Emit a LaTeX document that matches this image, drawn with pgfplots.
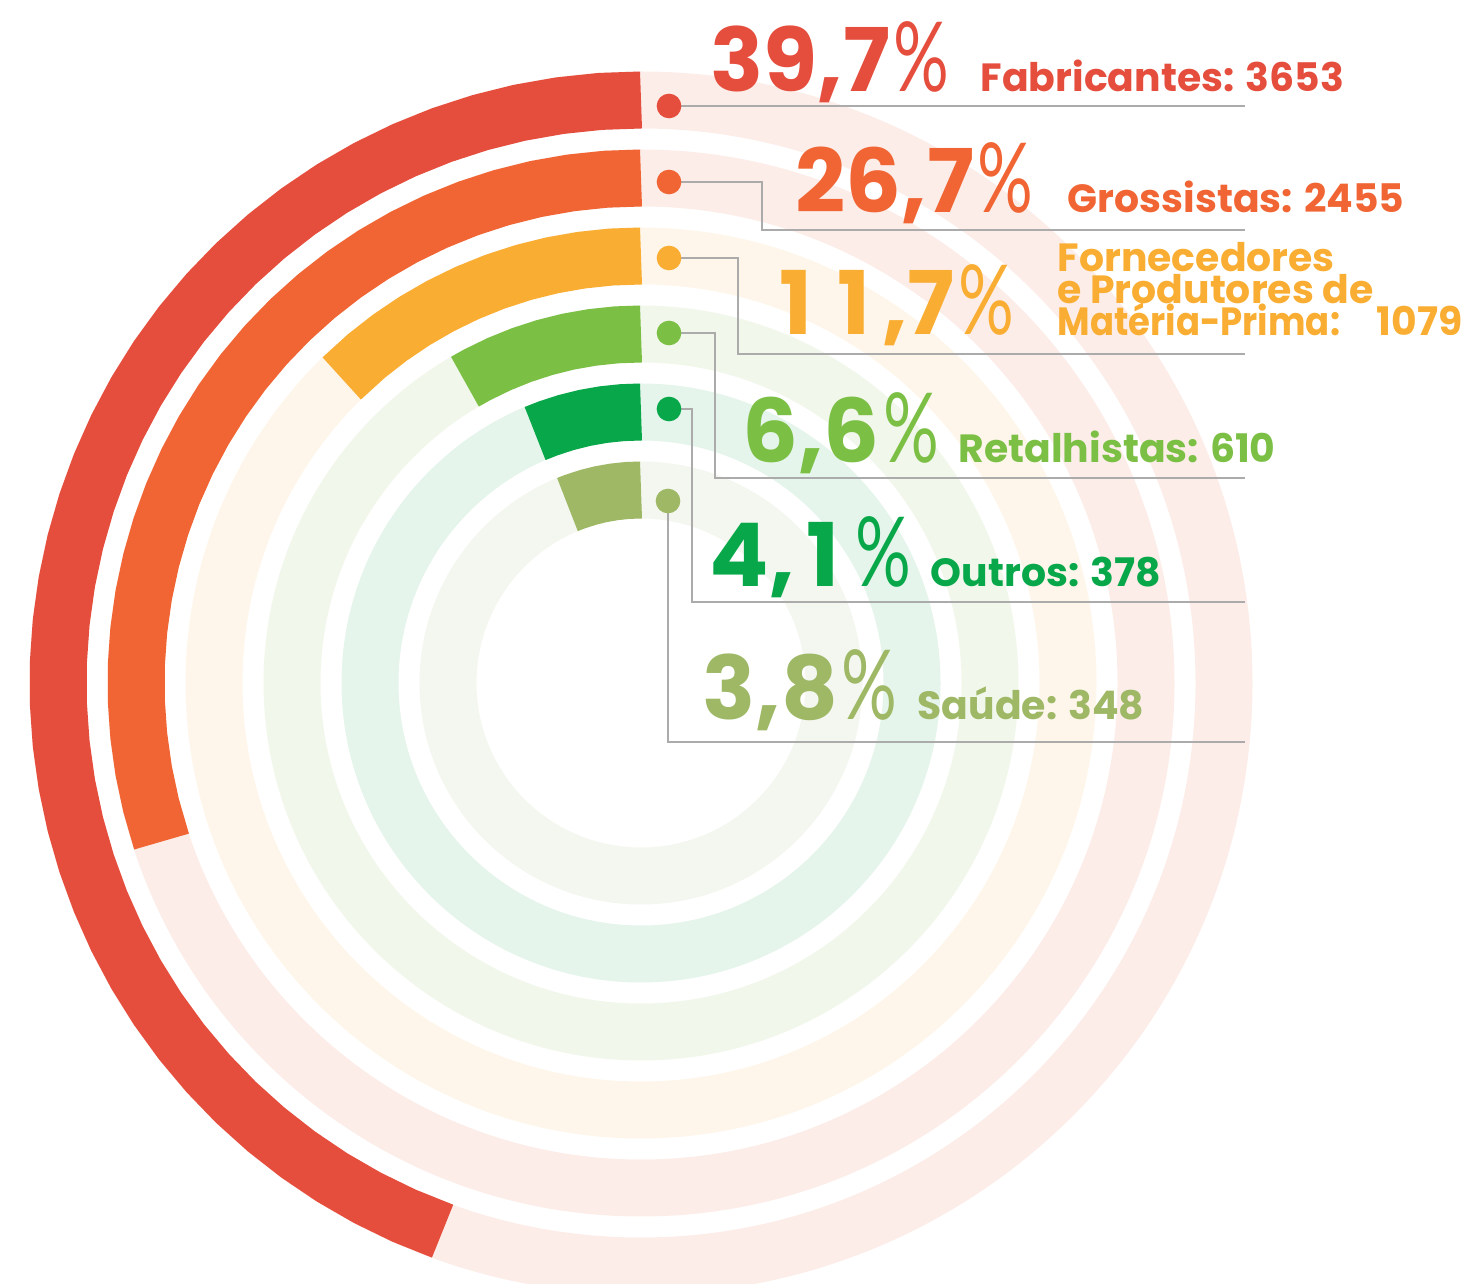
\documentclass[border=0pt]{standalone}
\usepackage{fontspec}
\setmainfont{Poppins}
\newfontfamily\pctfont{Lato}
\usepackage{graphicx}
\usepackage{pgfplots}
\pgfplotsset{compat=1.18}

\definecolor{cFab}{HTML}{E54D3D}
\definecolor{cGro}{HTML}{F06533}
\definecolor{cFor}{HTML}{F9AE33}
\definecolor{cRet}{HTML}{7CBF45}
\definecolor{cOut}{HTML}{08A84A}
\definecolor{cSau}{HTML}{9EB866}
\definecolor{pFab}{HTML}{FCEDE9}
\definecolor{pFor}{HTML}{FEF6EB}
\definecolor{pRet}{HTML}{F1F7EB}
\definecolor{pOut}{HTML}{E5F5EB}
\definecolor{pSau}{HTML}{F3F7EF}
\definecolor{leader}{HTML}{ABABAB}

% big figures: a "1" takes the width of a "0", as in tabular figures
\newlength\digw
\newcommand\one{\makebox[\digw][c]{1}}
\newcommand\bigpct[1]{{\fontsize{25}{25}\selectfont\bfseries\settowidth\digw{0}#1}\hspace{1pt}\scalebox{0.72}[1]{\pctfont\fontsize{27.5}{27.5}\selectfont\%}}
\newcommand\lab{\fontsize{11.2}{11.2}\selectfont\bfseries}
\tikzset{txt/.style={anchor=base west, inner sep=0, text height=7pt, text depth=0pt}}

\begin{document}
\begin{tikzpicture}
\begin{axis}[
  x=0.1mm, y=0.1mm,
  xmin=-641, xmax=830, ymin=-600, ymax=683,
  hide axis, clip=false, clip marker paths=true,
  ring/.style={only marks, mark=o, mark options={draw=#1, line width=5.7mm}},
  arc/.style={#1, line width=5.7mm, data cs=polar},
  lead/.style={leader, line width=0.55pt},
]
% background rings (mark radius = ring mid radius)
\addplot[ring=pFab, mark size=58.3mm] coordinates {(0,0)};
\addplot[ring=pFab, mark size=50.5mm] coordinates {(0,0)};
\addplot[ring=pFor, mark size=42.7mm] coordinates {(0,0)};
\addplot[ring=pRet, mark size=34.9mm] coordinates {(0,0)};
\addplot[ring=pOut, mark size=27.1mm] coordinates {(0,0)};
\addplot[ring=pSau, mark size=19.3mm] coordinates {(0,0)};

% bars as (angle, radius), from 12 o'clock counter-clockwise
% 39,7 Fabricantes
\addplot[arc=cFab] coordinates {(90,583) (94,583) (98,583) (102,583) (106,583)
  (110,583) (114,583) (118,583) (122,583) (126,583) (130,583) (134,583)
  (138,583) (142,583) (146,583) (150,583) (154,583) (158,583) (162,583)
  (166,583) (170,583) (174,583) (178,583) (182,583) (186,583) (190,583)
  (194,583) (198,583) (202,583) (206,583) (210,583) (214,583) (218,583)
  (222,583) (226,583) (230,583) (234,583) (238,583) (242,583) (246,583) (250.1,583)};
% 26,7 Grossistas
\addplot[arc=cGro] coordinates {(90,505) (94,505) (98,505) (102,505) (106,505)
  (110,505) (114,505) (118,505) (122,505) (126,505) (130,505) (134,505)
  (138,505) (142,505) (146,505) (150,505) (154,505) (158,505) (162,505)
  (166,505) (170,505) (174,505) (178,505) (182,505) (186,505) (190,505)
  (194,505) (198.3,505)};
% 11,7 Fornecedores
\addplot[arc=cFor] coordinates {(90,427) (94,427) (98,427) (102,427) (106,427)
  (110,427) (114,427) (118,427) (122,427) (126,427) (130,427) (134.5,427)};
% 6,6 Retalhistas
\addplot[arc=cRet] coordinates {(90,349) (94,349) (98,349) (102,349) (106,349)
  (110,349) (114,349) (118,349) (120.3,349)};
% 4,1 Outros
\addplot[arc=cOut] coordinates {(90,271) (94,271) (98,271) (102,271) (106,271)
  (110,271) (113,271)};
% 3,8 Saude
\addplot[arc=cSau] coordinates {(90,193) (94,193) (98,193) (102,193) (106,193)
  (110,193) (112.4,193)};

% leader lines
\addplot[lead] coordinates {(28,577) (604,577)};
\addplot[lead] coordinates {(28,501) (121,501) (121,453) (604,453)};
\addplot[lead] coordinates {(28,425) (97,425) (97,329) (604,329)};
\addplot[lead] coordinates {(28,350) (74,350) (74,205) (604,205)};
\addplot[lead] coordinates {(28,274) (51,274) (51,81) (604,81)};
\addplot[lead] coordinates {(27,182) (27,-59) (604,-59)};

% dots
\addplot[only marks, mark=*, mark size=3.3pt, cFab] coordinates {(28,577)};
\addplot[only marks, mark=*, mark size=3.3pt, cGro] coordinates {(28,501)};
\addplot[only marks, mark=*, mark size=3.3pt, cFor] coordinates {(28,425)};
\addplot[only marks, mark=*, mark size=3.3pt, cRet] coordinates {(28,350)};
\addplot[only marks, mark=*, mark size=3.3pt, cOut] coordinates {(28,274)};
\addplot[only marks, mark=*, mark size=3.3pt, cSau] coordinates {(27,182)};

% labels
\node[txt, text=cFab] at (axis cs:69,591) {\bigpct{39,7}};
\node[txt, text=cFab] at (axis cs:339,591) {\lab Fabricantes: 3653};
\node[txt, text=cGro] at (axis cs:154,470) {\bigpct{26,7}};
\node[txt, text=cGro] at (axis cs:426,470) {\lab Grossistas: 2455};
\node[txt, text=cFor] at (axis cs:126,348) {\bigpct{\one\one,7}};
\node[txt, text=cFor] at (axis cs:416,411) {\lab Fornecedores};
\node[txt, text=cFor] at (axis cs:416,379) {\lab e Produtores de};
\node[txt, text=cFor] at (axis cs:416,347) {\lab\scalebox{0.9}[1]{Matéria-Prima:}};
\node[txt, text=cFor] at (axis cs:735,347) {\lab 1079};
\node[txt, text=cRet] at (axis cs:101,220) {\bigpct{6,6}};
\node[txt, text=cRet] at (axis cs:317,220) {\lab Retalhistas: 610};
\node[txt, text=cOut] at (axis cs:68,96) {\bigpct{4,\one}};
\node[txt, text=cOut] at (axis cs:289,96) {\lab Outros: 378};
\node[txt, text=cSau] at (axis cs:61,-37) {\bigpct{3,8}};
\node[txt, text=cSau] at (axis cs:276,-37) {\lab Saúde: 348};
\end{axis}
\pgfresetboundingbox
\useasboundingbox (current axis.south west) rectangle (current axis.north east);
\end{tikzpicture}
\end{document}
